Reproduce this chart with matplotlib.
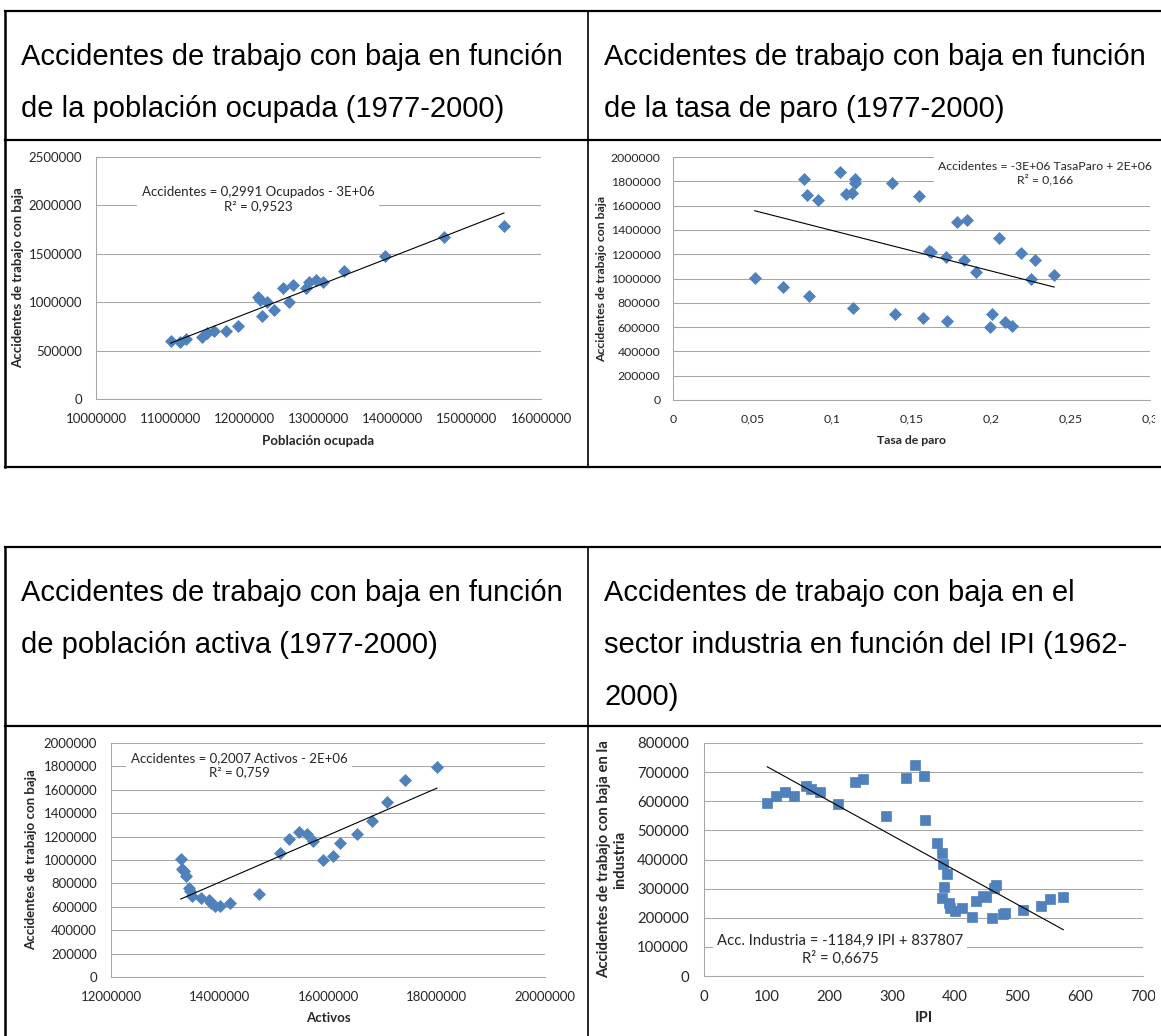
import numpy as np
import matplotlib
matplotlib.use("Agg")
import matplotlib.pyplot as plt
from matplotlib.lines import Line2D
from matplotlib.patches import Rectangle

# ---------------- data ----------------
# Chart 1: accidents vs employed population (1977-2000)
ocup_x = [11.008e6, 11.13e6, 11.215e6, 11.43e6, 11.49e6, 11.595e6, 11.757e6, 11.91e6,
          12.19e6, 12.21e6, 12.24e6, 12.30e6, 12.405e6, 12.52e6, 12.60e6, 12.65e6,
          12.83e6, 12.87e6, 12.96e6, 13.06e6, 13.35e6, 13.90e6, 14.69e6, 15.50e6]
ocup_y = [598e3, 588e3, 622e3, 643e3, 677e3, 705e3, 702e3, 753e3,
          1056e3, 1020e3, 856e3, 997e3, 915e3, 1142e3, 997e3, 1173e3,
          1149e3, 1210e3, 1228e3, 1210e3, 1324e3, 1479e3, 1675e3, 1790e3]
ocup_trend = [0.2991, -2.715e6]
ocup_eq = "Accidentes = 0,2991 Ocupados - 3E+06\nR² = 0,9523"

# Chart 2: accidents vs unemployment rate
paro_x = [0.0514, 0.0693, 0.0821, 0.0844, 0.0858, 0.0911, 0.105, 0.109, 0.1126, 0.1144,
          0.1144, 0.1135, 0.1378, 0.1394, 0.155, 0.157, 0.161, 0.1622, 0.1718, 0.1722,
          0.1789, 0.185, 0.1828, 0.1908, 0.1993, 0.2007, 0.2048, 0.2085, 0.2133, 0.219,
          0.225, 0.2275, 0.2397]
paro_y = [1004e3, 927e3, 1816e3, 1687e3, 859e3, 1643e3, 1874e3, 1698e3, 1706e3, 1819e3,
          1786e3, 757e3, 1789e3, 705e3, 1676e3, 675e3, 1229e3, 1215e3, 1174e3, 647e3,
          1465e3, 1484e3, 1152e3, 1056e3, 601e3, 708e3, 1331e3, 639e3, 609e3, 1213e3,
          996e3, 1152e3, 1026e3]
paro_trend = [-3.335e6, 1.729e6]
paro_eq = "Accidentes = -3E+06 TasaParo + 2E+06\nR² = 0,166"
paro_xticks = [0, 0.05, 0.1, 0.15, 0.2, 0.25, 0.3]
paro_xticklabels = ["0", "0,05", "0,1", "0,15", "0,2", "0,25", "0,3"]

# Chart 3: accidents vs active population
act_x = [13.285e6, 13.31e6, 13.34e6, 13.39e6, 13.43e6, 13.46e6, 13.49e6, 13.65e6, 13.81e6,
         13.85e6, 13.92e6, 14.01e6, 14.19e6, 14.72e6, 15.11e6, 15.28e6, 15.47e6, 15.61e6,
         15.72e6, 15.90e6, 16.09e6, 16.23e6, 16.53e6, 16.82e6, 17.08e6, 17.42e6, 18.01e6]
act_y = [1010e3, 925e3, 905e3, 863e3, 761e3, 733e3, 693e3, 679e3, 659e3,
         636e3, 603e3, 608e3, 631e3, 713e3, 1061e3, 1180e3, 1242e3, 1225e3,
         1160e3, 1001e3, 1030e3, 1146e3, 1219e3, 1335e3, 1494e3, 1680e3, 1796e3]
act_trend = [0.2007, -2.0e6]
act_eq = "Accidentes = 0,2007 Activos - 2E+06\nR² = 0,759"

# Chart 4: industry accidents vs IPI (1962-2000)
ipi_x = [100.9, 115, 129, 143.7, 163, 171, 185, 214, 240, 253, 290, 322.6, 336, 351, 352,
         372, 379, 381, 388, 383, 379, 390, 392, 400.6, 412, 427, 433, 445, 449, 459, 462,
         466, 477, 480, 509, 537, 552, 573]
ipi_y = [595e3, 618e3, 631e3, 618e3, 651e3, 641e3, 633e3, 591e3, 665e3, 677e3, 550e3,
         681e3, 726e3, 685e3, 537e3, 458e3, 423e3, 384e3, 351e3, 305e3, 269e3, 251e3,
         232e3, 224e3, 233e3, 201e3, 256e3, 275e3, 271e3, 199e3, 303e3, 313e3, 214e3,
         217e3, 225e3, 239e3, 263e3, 272e3]
ipi_trend = [-1184.9, 837807]
ipi_eq = "Acc. Industria = -1184,9 IPI + 837807\nR² = 0,6675"

titles_tl = ["Accidentes de trabajo con baja en función", "de la población ocupada (1977-2000)"]
titles_tr = ["Accidentes de trabajo con baja en función", "de la tasa de paro (1977-2000)"]
titles_bl = ["Accidentes de trabajo con baja en función", "de población activa (1977-2000)"]
titles_br = ["Accidentes de trabajo con baja en el", "sector industria en función del IPI (1962-", "2000)"]

# ---------------- layout ----------------
W, H = 1161, 1036
fig = plt.figure(figsize=(W / 100, H / 100), dpi=100)
fig.patch.set_facecolor("white")

BLUE = "#4F81BD"
GRID = "#A6A6A6"
TXT = "#262626"
CF = "Lato"


def fx(px):
    return px / W


def fy(py):
    return 1 - py / H


def rect(l, t, r, b):
    return [fx(l), fy(b), (r - l) / W, (b - t) / H]


def chart(box, x, y, marker, ms, xlim, xticks, xtl, ylim, ystep, xlabel, ylabel,
          trend, eq, eqpos, fs, ylab_x, xlab_y, ypad, xpad):
    ax = fig.add_axes(rect(*box))
    ax.set_xlim(*xlim)
    ax.set_ylim(*ylim)
    yt = np.arange(ylim[0], ylim[1] + 1, ystep)
    ax.set_yticks(yt)
    ax.set_yticklabels([f"{int(v)}" for v in yt])
    ax.set_xticks(xticks)
    ax.set_xticklabels(xtl)
    ax.grid(axis="y", color=GRID, lw=0.75)
    ax.set_axisbelow(True)
    for s in ("top", "right"):
        ax.spines[s].set_visible(False)
    for s in ("left", "bottom"):
        ax.spines[s].set_color(GRID)
        ax.spines[s].set_linewidth(0.75)
    ax.tick_params(length=0, labelsize=fs, labelcolor=TXT)
    ax.tick_params(axis="y", pad=ypad)
    ax.tick_params(axis="x", pad=xpad)
    for lab in ax.get_xticklabels() + ax.get_yticklabels():
        lab.set_fontfamily(CF)
    ax.plot(x, y, ls="none", marker=marker, ms=ms, color=BLUE, mec=BLUE, mew=0.5,
            zorder=3, clip_on=False)
    xs = np.array([min(x), max(x)])
    ax.plot(xs, trend[0] * xs + trend[1], color="#000000", lw=0.8, zorder=4)
    ax.text(fx(eqpos[0]), fy(eqpos[1]), eq, transform=fig.transFigure, ha="center",
            va="center", fontsize=fs, family=CF, color=TXT, linespacing=1.25,
            multialignment="center",
            bbox=dict(facecolor="white", edgecolor="none", pad=3), zorder=5)
    cx = (box[0] + box[2]) / 2
    fig.text(fx(cx), fy(xlab_y), xlabel, ha="center", va="center", fontsize=fs,
             family=CF, fontweight="bold", color=TXT)
    cy = (box[1] + box[3]) / 2
    fig.text(fx(ylab_x), fy(cy), ylabel, ha="center", va="center", rotation=90,
             fontsize=fs, family=CF, fontweight="bold", color=TXT,
             multialignment="center", linespacing=1.2)
    return ax


# Chart 1
chart((96, 157, 541, 399), ocup_x, ocup_y, "D", 6.6, (10e6, 16e6),
      [10e6, 11e6, 12e6, 13e6, 14e6, 15e6, 16e6],
      ["10000000", "11000000", "12000000", "13000000", "14000000", "15000000", "16000000"],
      (0, 2500000), 500000, "Población ocupada", "Accidentes de trabajo con baja",
      ocup_trend, ocup_eq, (258, 199), 9.5, 18, 441, 10, 10)

# Chart 2
chart((673, 157, 1150, 400), paro_x, paro_y, "D", 6.6, (0, 0.3), paro_xticks,
      paro_xticklabels, (0, 2000000), 200000, "Tasa de paro",
      "Accidentes de trabajo con baja", paro_trend, paro_eq, (1045, 173), 8.8,
      602, 441, 9, 10)

# Chart 3
chart((111, 743, 545, 977), act_x, act_y, "D", 6.6, (12e6, 20e6),
      [12e6, 14e6, 16e6, 18e6, 20e6],
      ["12000000", "14000000", "16000000", "18000000", "20000000"],
      (0, 2000000), 200000, "Activos", "Accidentes de trabajo con baja",
      act_trend, act_eq, (239, 765), 9.5, 31, 1018, 10, 10)

# Chart 4
chart((704, 743, 1143, 976), ipi_x, ipi_y, "s", 7.0, (0, 700),
      [0, 100, 200, 300, 400, 500, 600, 700],
      ["0", "100", "200", "300", "400", "500", "600", "700"],
      (0, 800000), 100000, "IPI", "Accidentes de trabajo con baja en la\nindustria",
      ipi_trend, ipi_eq, (840, 950), 10.7, 612, 1018, 11, 10)

# crop of the pasted chart images at right side
for (t, b) in ((141, 466), (727, 1036)):
    fig.add_artist(Rectangle((fx(1155), fy(b)), (W - 1155) / W, (b - t) / H,
                             transform=fig.transFigure, facecolor="white",
                             edgecolor="none", zorder=20))

# titles
TF = "Liberation Sans"
TS = 21
for lines, x0, y0 in ((titles_tl, 21, 65), (titles_tr, 604, 65),
                      (titles_bl, 21, 601), (titles_br, 604, 601)):
    for i, s in enumerate(lines):
        fig.text(fx(x0), fy(y0 + 52 * i), s, ha="left", va="baseline",
                 fontsize=TS, family=TF, color="black")


# table lines
def hline(y, x0, x1, w):
    fig.add_artist(Line2D([fx(x0), fx(x1)], [fy(y), fy(y)], transform=fig.transFigure,
                          color="black", lw=w, zorder=30, solid_capstyle="projecting"))


def vline(x, y0, y1, w):
    fig.add_artist(Line2D([fx(x), fx(x)], [fy(y0), fy(y1)], transform=fig.transFigure,
                          color="black", lw=w, zorder=30, solid_capstyle="projecting"))


hline(11, 5, W + 2, 1.6)
hline(140, 5, W + 2, 1.6)
hline(466.5, 5, W + 2, 1.6)
vline(5, 11, 466.5, 1.8)
vline(588, 11, 466.5, 1.2)

hline(547, 5, W + 2, 1.6)
hline(726, 5, W + 2, 1.6)
vline(5, 547, H + 2, 1.8)
vline(588, 547, H + 2, 1.2)

fig.savefig("out.png", dpi=100, facecolor="white")
